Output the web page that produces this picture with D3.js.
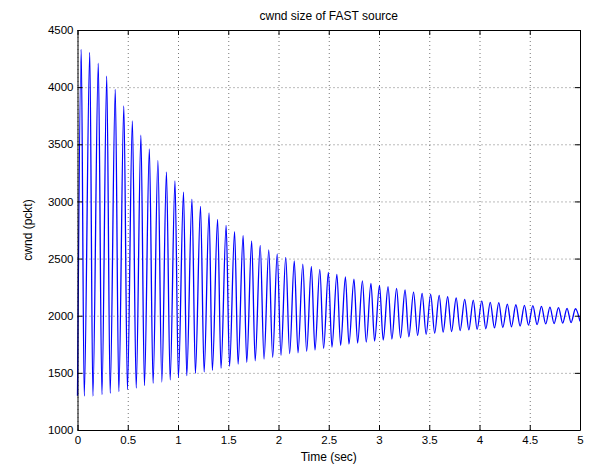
<!DOCTYPE html>
<html>
<head>
<meta charset="utf-8">
<script src="https://cdn.jsdelivr.net/npm/d3@7"></script>
<style>
  body { margin: 0; background: #fff; }
  svg { display: block; font-family: "Liberation Sans", Arial, Helvetica, sans-serif; }
  .grid line { stroke: #777; stroke-dasharray: 1,3; }
  .grid path { display: none; }
</style>
</head>
<body>
<svg id="chart" width="594" height="468"></svg>
<script>
// window peaks (sec, pckt)
const peakTimes = [
  0.037, 0.122, 0.207, 0.291, 0.376, 0.461, 0.546, 0.631, 0.715, 0.800,
  0.885, 0.970, 1.055, 1.139, 1.224, 1.309, 1.394, 1.479, 1.563, 1.648,
  1.733, 1.818, 1.903, 1.987, 2.072, 2.157, 2.242, 2.327, 2.411, 2.496,
  2.581, 2.666, 2.751, 2.835, 2.920, 3.005, 3.090, 3.175, 3.259, 3.344,
  3.429, 3.514, 3.599, 3.683, 3.768, 3.853, 3.938, 4.023, 4.107, 4.192,
  4.277, 4.362, 4.447, 4.531, 4.616, 4.701, 4.786, 4.871, 4.955
];
const peakValues = [
  4331, 4305, 4209, 4097, 3981, 3835, 3704, 3579, 3459, 3360,
  3257, 3179, 3082, 3021, 2957, 2899, 2843, 2791, 2735, 2700,
  2654, 2616, 2575, 2540, 2511, 2479, 2452, 2432, 2406, 2380,
  2362, 2339, 2321, 2304, 2283, 2266, 2254, 2240, 2225, 2207,
  2196, 2187, 2178, 2166, 2155, 2143, 2137, 2129, 2117, 2114,
  2102, 2096, 2091, 2088, 2082, 2076, 2070, 2065, 2061
];
// window troughs, one after each peak
const troughTimes = [
  0.067, 0.153, 0.243, 0.325, 0.411, 0.497, 0.584, 0.666, 0.752, 0.839,
  0.922, 1.004, 1.087, 1.173, 1.260, 1.342, 1.428, 1.513, 1.598, 1.684,
  1.768, 1.856, 1.942, 2.025, 2.111, 2.194, 2.280, 2.363, 2.449, 2.532,
  2.618, 2.701, 2.787, 2.873, 2.956, 3.042, 3.128, 3.214, 3.297, 3.384,
  3.469, 3.554, 3.638, 3.722, 3.807, 3.894, 3.976, 4.063, 4.149, 4.232,
  4.318, 4.404, 4.487, 4.573, 4.659, 4.742, 4.828, 4.911
];
const troughValues = [
  1297, 1297, 1309, 1321, 1335, 1353, 1367, 1388, 1409, 1420,
  1438, 1458, 1475, 1496, 1508, 1522, 1540, 1558, 1577, 1592,
  1605, 1621, 1636, 1653, 1668, 1676, 1688, 1700, 1714, 1726,
  1741, 1752, 1761, 1770, 1778, 1787, 1796, 1806, 1816, 1828,
  1838, 1848, 1856, 1862, 1870, 1876, 1880, 1886, 1893, 1897,
  1903, 1910, 1917, 1922, 1928, 1932, 1936, 1940
];
const startPoint = [0, 1300];
const endPoint = [5, 1950];

const xTicks = [0, 0.5, 1, 1.5, 2, 2.5, 3, 3.5, 4, 4.5, 5];
const yTicks = [1000, 1500, 2000, 2500, 3000, 3500, 4000, 4500];

const margin = { top: 30, right: 14, bottom: 38, left: 77.5 };
const width = 594;
const height = 468;
const iw = width - margin.left - margin.right;
const ih = height - margin.top - margin.bottom;

// merge peaks and troughs into one time-ordered series
const series = [startPoint];
peakTimes.forEach((t, i) => {
  series.push([t, peakValues[i]]);
  if (i < troughTimes.length) series.push([troughTimes[i], troughValues[i]]);
});
series.push(endPoint);

const x = d3.scaleLinear().domain([0, 5]).range([0, iw]);
const y = d3.scaleLinear().domain([1000, 4500]).range([ih, 0]);

const svg = d3.select("#chart");
const g = svg.append("g").attr("transform", `translate(${margin.left},${margin.top})`);

// dotted grid
g.append("g")
  .attr("class", "grid")
  .attr("transform", `translate(0,${ih})`)
  .call(d3.axisBottom(x).tickValues(xTicks).tickSize(-ih).tickFormat(""));
g.append("g")
  .attr("class", "grid")
  .call(d3.axisLeft(y).tickValues(yTicks).tickSize(-iw).tickFormat(""));

const line = d3
  .line()
  .curve(d3.curveMonotoneX)
  .x((d) => x(d[0]))
  .y((d) => y(d[1]));

g.append("path")
  .datum(series)
  .attr("fill", "none")
  .attr("stroke", "#0000ff")
  .attr("stroke-width", 1.3)
  .attr("d", line);

// box with inward ticks on every side
function styleAxis(sel) {
  sel.selectAll("path").attr("stroke", "#000");
  sel.selectAll("line").attr("stroke", "#000");
  sel.selectAll("text").attr("fill", "#000").style("font-size", "11.5px");
}
g.append("g")
  .attr("transform", `translate(0,${ih})`)
  .call(d3.axisBottom(x).tickValues(xTicks).tickSize(-5).tickSizeOuter(0).tickPadding(6).tickFormat(d3.format("")))
  .call(styleAxis);
g.append("g")
  .call(d3.axisTop(x).tickValues(xTicks).tickSize(-5).tickSizeOuter(0).tickFormat(""))
  .call(styleAxis);
g.append("g")
  .call(d3.axisLeft(y).tickValues(yTicks).tickSize(-5).tickSizeOuter(0).tickPadding(4).tickFormat(d3.format("d")))
  .call(styleAxis);
g.append("g")
  .attr("transform", `translate(${iw},0)`)
  .call(d3.axisRight(y).tickValues(yTicks).tickSize(-5).tickSizeOuter(0).tickFormat(""))
  .call(styleAxis);

svg.append("text")
  .attr("x", margin.left + iw / 2)
  .attr("y", 20)
  .attr("text-anchor", "middle")
  .style("font-size", "12px")
  .text("cwnd size of FAST source");

svg.append("text")
  .attr("x", margin.left + iw / 2)
  .attr("y", 461)
  .attr("text-anchor", "middle")
  .style("font-size", "12px")
  .text("Time (sec)");

svg.append("text")
  .attr("transform", `translate(32,${margin.top + ih / 2}) rotate(-90)`)
  .attr("text-anchor", "middle")
  .style("font-size", "12px")
  .text("cwnd (pckt)");
</script>
</body>
</html>
